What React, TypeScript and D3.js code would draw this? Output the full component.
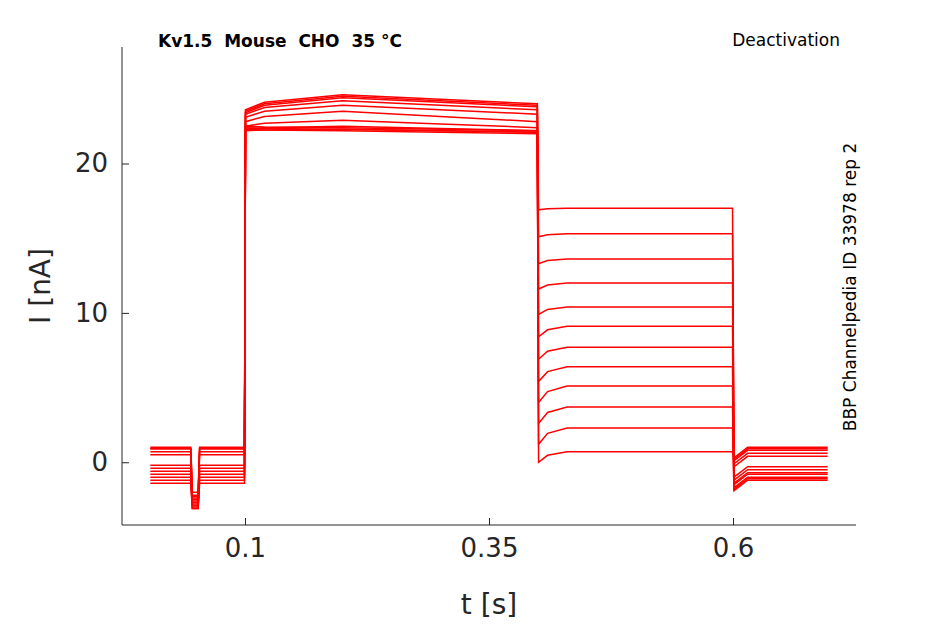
import React, { useEffect, useRef } from "react";
import * as d3 from "d3";

// one entry per sweep (nA)
const holdLevels = [1.0, 0.9, 0.7, 0.5, -0.2, -0.4, -0.6, -0.8, -1.0, -1.2, -1.4, 0.9];
const dipLevels = [-2.2, -2.3, -2.4, -2.5, -2.6, -2.7, -2.8, -2.9, -3.0, -3.1, -3.1, -2.0];
const stepStart = [23.6, 23.5, 23.4, 23.3, 23.1, 22.8, 22.5, 22.3, 22.2, 22.3, 22.4, 22.5];
const stepPeak = [24.6, 24.5, 24.4, 24.2, 23.9, 23.5, 22.9, 22.5, 22.3, 22.2, 22.3, 22.4];
const stepEnd = [24.0, 23.9, 23.8, 23.6, 23.3, 22.8, 22.4, 22.2, 22.1, 22.0, 22.1, 22.2];
const tailStart = [16.9, 15.1, 13.3, 11.6, 9.9, 8.4, 6.9, 5.4, 4.0, 2.6, 1.2, 0.0];
const tailLevels = [17.0, 15.3, 13.6, 12.0, 10.4, 9.1, 7.7, 6.4, 5.1, 3.7, 2.3, 0.7];
const hold2Levels = [1.0, 0.8, 0.6, 0.4, -0.3, -0.5, -0.7, -0.8, -1.0, -1.1, -1.2, 0.9];
const xTicks = [0.1, 0.35, 0.6];
const yTicks = [0, 10, 20];

const App = () => {
  const ref = useRef<SVGSVGElement>(null);
  useEffect(() => {
    const svg = d3.select(ref.current);
    svg.selectAll("*").remove();
    const font = "DejaVu Sans, sans-serif";
    const axisColor = "#262626";
    const x = d3.scaleLinear().domain([-0.026, 0.726]).range([122, 856]);
    const y = d3.scaleLinear().domain([-4.2, 27.8]).range([525, 47]);

    const line = d3.line<[number, number]>().x(d => x(d[0])).y(d => y(d[1]));
    holdLevels.forEach((h, i) => {
      const pts: [number, number][] = [
        [0.003, h], [0.0445, h], [0.046, dipLevels[i]], [0.052, dipLevels[i]], [0.0535, h],
        [0.0995, h], [0.1005, stepStart[i]], [0.12, (stepStart[i] + stepPeak[i]) / 2],
        [0.2, stepPeak[i]], [0.3, (stepPeak[i] + stepEnd[i]) / 2], [0.3995, stepEnd[i]],
        [0.4008, tailStart[i]], [0.41, (tailStart[i] + 2 * tailLevels[i]) / 3], [0.43, tailLevels[i]],
        [0.5995, tailLevels[i]], [0.601, hold2Levels[i] - 0.7], [0.615, hold2Levels[i]],
        [0.697, hold2Levels[i]],
      ];
      svg.append("path").attr("d", line(pts)).attr("fill", "none")
        .attr("stroke", "#ff0000").attr("stroke-width", 1.5);
    });

    const xa = svg.append("g").attr("transform", "translate(0,525)")
      .call(d3.axisBottom(x).tickValues(xTicks).tickFormat(d => String(d)).tickSize(-7).tickPadding(14));
    const ya = svg.append("g").attr("transform", "translate(122,0)")
      .call(d3.axisLeft(y).tickValues(yTicks).tickSize(-7).tickPadding(14));
    [xa, ya].forEach(a => {
      a.select(".domain").attr("stroke", axisColor);
      a.selectAll("line").attr("stroke", axisColor);
      a.selectAll("text").attr("fill", axisColor).attr("font-size", 26).attr("font-family", font);
    });
    ya.select(".domain").attr("d", "M0,525V47");
    xa.select(".domain").attr("d", "M122,0H856");

    svg.append("text").attr("x", 489).attr("y", 614).attr("text-anchor", "middle")
      .attr("font-size", 28).attr("font-family", font).attr("fill", axisColor).text("t [s]");
    svg.append("text").attr("transform", "translate(50,286) rotate(-90)").attr("text-anchor", "middle")
      .attr("font-size", 28).attr("font-family", font).attr("fill", axisColor).text("I [nA]");
    svg.append("text").attr("x", 158).attr("y", 47).attr("font-size", 17).attr("font-weight", "bold")
      .attr("font-family", font).attr("xml:space", "preserve").style("white-space", "pre")
      .text("Kv1.5  Mouse  CHO  35 °C");
    svg.append("text").attr("x", 840).attr("y", 46).attr("text-anchor", "end").attr("font-size", 17)
      .attr("font-family", font).text("Deactivation");
    svg.append("text").attr("transform", "translate(856,287) rotate(-90)").attr("text-anchor", "middle")
      .attr("font-size", 17).attr("font-family", font).text("BBP Channelpedia ID 33978 rep 2");
  }, []);
  return <svg ref={ref} width={945} height={624} style={{ position: "absolute", left: 0, top: 0 }} />;
};

export default App;
